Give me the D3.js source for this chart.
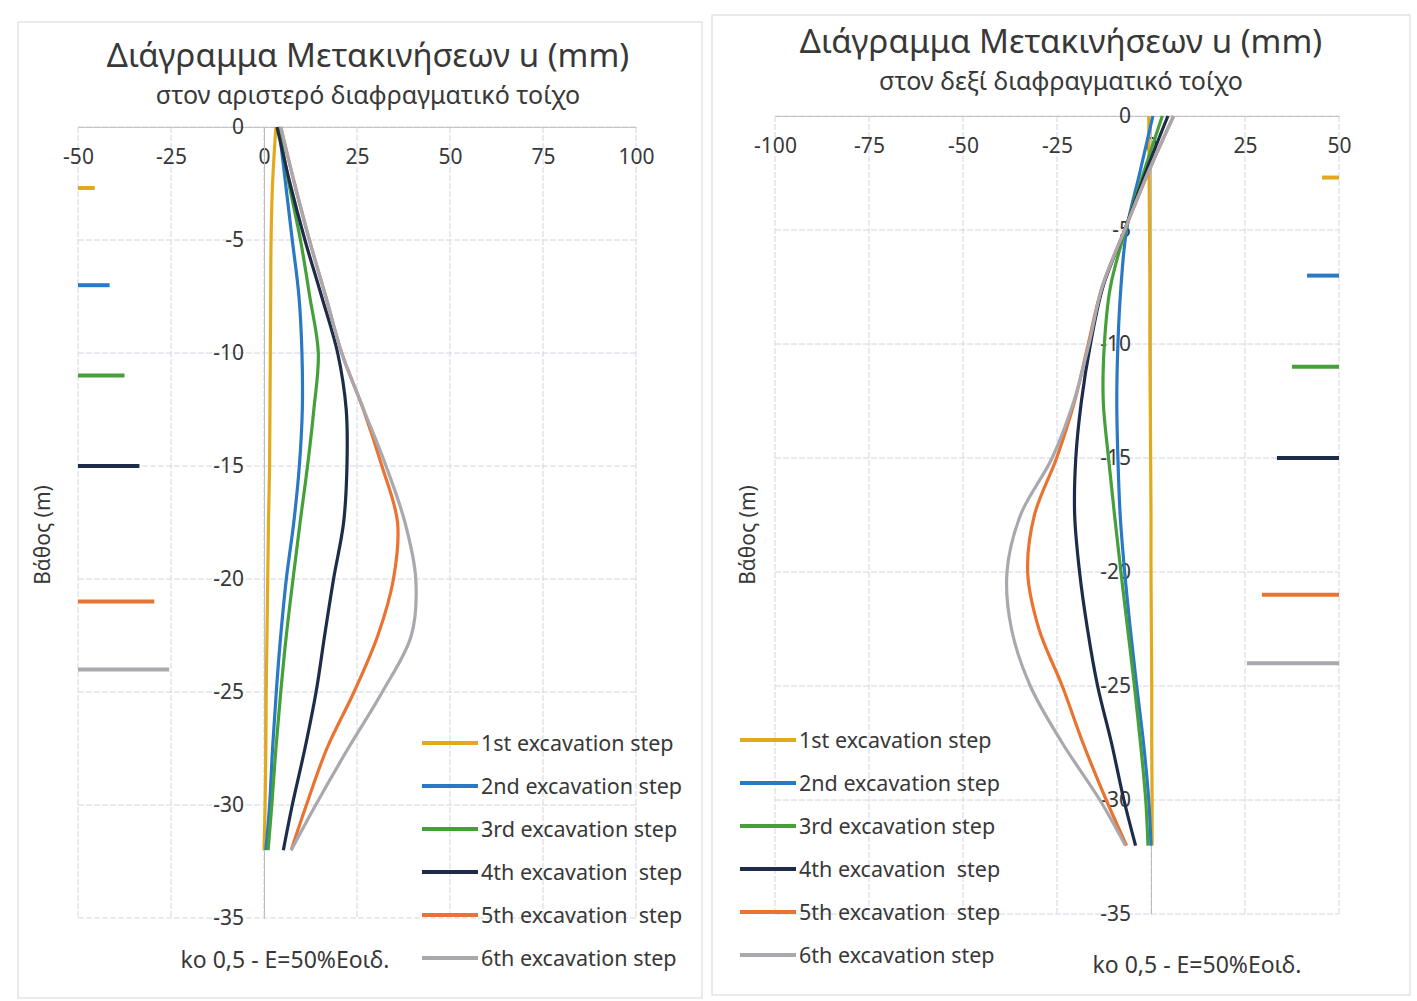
<!DOCTYPE html>
<html>
<head>
<meta charset="utf-8">
<script src="https://cdn.jsdelivr.net/npm/d3@7"></script>
<style>
    body { margin: 0; background: #ffffff; }
    text { font-family: "Noto Sans", "Open Sans", sans-serif; fill: #383838; }
    .legend text { white-space: pre; }
</style>
</head>
<body>
<div id="chart"></div>
<script>

// depth of the output points along the wall (m)
const depths = [0, -2.5, -5, -7.5, -10, -12.5, -15, -17.5, -20, -22.5, -25, -27.5, -30, -32];

// left wall - horizontal displacement u (mm) for each excavation step
const leftStep1 = [3.2, 2.3, 1.9, 1.8, 1.7, 1.6, 1.5, 1.2, 1.0, 0.8, 0.6, 0.5, 0.3, 0.0];
const leftStep2 = [4.0, 5.8, 7.6, 9.4, 10.2, 10.3, 9.5, 8.0, 6.0, 4.5, 3.3, 2.3, 1.5, 0.5];
const leftStep3 = [4.0, 6.7, 9.8, 12.3, 14.6, 13.4, 11.7, 9.7, 7.8, 6.0, 4.5, 3.2, 2.1, 1.1];
const leftStep4 = [3.5, 7.0, 11.0, 15.5, 19.8, 22.1, 22.3, 21.4, 18.7, 16.3, 14.0, 11.0, 7.6, 5.2];
const leftStep5 = [4.5, 8.2, 12.2, 16.6, 20.9, 26.7, 31.7, 35.9, 34.8, 30.6, 24.2, 16.9, 11.4, 7.3];
const leftStep6 = [4.5, 8.2, 12.2, 16.6, 20.9, 26.8, 32.8, 37.9, 40.8, 39.6, 31.8, 22.6, 13.9, 7.3];

// right wall
const rightStep1 = [-0.6, -0.5, -0.4, -0.3, -0.3, -0.2, -0.1, 0.0, 0.0, 0.1, 0.2, 0.2, 0.3, 0.3];
const rightStep2 = [0.5, -3.0, -6.5, -8.0, -8.8, -9.1, -8.8, -8.2, -7.0, -5.5, -3.8, -2.0, -0.6, 0.0];
const rightStep3 = [3.0, -2.0, -6.8, -10.8, -12.4, -12.7, -11.3, -9.7, -8.0, -6.2, -4.4, -2.8, -1.4, -0.8];
const rightStep4 = [4.5, -1.5, -7.0, -12.8, -16.1, -18.5, -20.0, -20.3, -19.0, -16.9, -14.2, -10.5, -7.2, -4.1];
const rightStep5 = [6.0, -0.8, -7.0, -13.0, -16.7, -20.3, -25.1, -31.0, -32.8, -29.8, -23.6, -18.1, -11.9, -6.5];
const rightStep6 = [6.0, -0.8, -7.0, -13.0, -16.5, -20.5, -26.3, -34.7, -38.3, -37.1, -32.1, -23.6, -13.6, -6.8];

// excavation level of each step (m) and length of its marker (mm on the x scale)
const levelDepths = [-2.7, -7, -11, -15, -21, -24];
const levelLengths = [4.5, 8.5, 12.5, 16.5, 20.5, 24.5];

const stepLabels = ["1st excavation step", "2nd excavation step", "3rd excavation step",
    "4th excavation  step", "5th excavation  step", "6th excavation step"];

const leftTicksX = [-50, -25, 0, 25, 50, 75, 100];
const rightTicksX = [-100, -75, -50, -25, 0, 25, 50];
const ticksY = [0, -5, -10, -15, -20, -25, -30, -35];

const stepColors = ["#E2A91C", "#2A79C6", "#45A03A", "#1D2C4A", "#EA7331", "#A8A8AE"];


class DisplacementVis {

    constructor(svg, config, series) {
        this.svg = svg;
        this.config = config;
        this.series = series;

        this.initVis()
    }

    initVis() {
        let vis = this;
        let c = vis.config;

        vis.g = vis.svg.append("g");

        // outer chart frame
        vis.g.append("rect")
            .attr("x", c.frame[0]).attr("y", c.frame[1])
            .attr("width", c.frame[2]).attr("height", c.frame[3])
            .attr("fill", "none")
            .attr("stroke", "#d6d6d6");

        vis.x = d3.scaleLinear().domain(c.xDomain).range(c.xRange);
        vis.y = d3.scaleLinear().domain([0, -35]).range(c.yRange);

        // gridlines
        vis.g.append("g").selectAll("line")
            .data(c.ticksX)
            .enter().append("line")
            .attr("x1", d => vis.x(d)).attr("x2", d => vis.x(d))
            .attr("y1", vis.y(0)).attr("y2", vis.y(-35))
            .attr("stroke", "#d3d6e0")
            .attr("stroke-dasharray", "6,2");

        vis.g.append("g").selectAll("line")
            .data(ticksY)
            .enter().append("line")
            .attr("x1", vis.x(c.xDomain[0])).attr("x2", vis.x(c.xDomain[1]))
            .attr("y1", d => vis.y(d)).attr("y2", d => vis.y(d))
            .attr("stroke", "#d3d6e0")
            .attr("stroke-dasharray", "6,2");

        // plain hyphen for negatives, like the original
        let fmt = d => String(d);

        // x axis sits on depth 0, labels hang below it
        let xAxis = vis.g.append("g")
            .attr("transform", "translate(0," + vis.y(0) + ")")
            .call(d3.axisBottom(vis.x).tickValues(c.ticksX).tickFormat(fmt).tickSize(0).tickPadding(22));
        xAxis.select(".domain").attr("stroke", "#c4c4c4");
        xAxis.selectAll("text")
            .style("font-size", "21px")
            .style("font-family", null)
            .attr("fill", null);

        // y axis on u = 0
        let yAxis = vis.g.append("g")
            .attr("transform", "translate(" + vis.x(0) + ",0)")
            .call(d3.axisLeft(vis.y).tickValues(ticksY).tickFormat(fmt).tickSize(0).tickPadding(20));
        yAxis.select(".domain").attr("stroke", "#bcbcbc");
        yAxis.selectAll("text")
            .style("font-size", "21px")
            .style("font-family", null)
            .attr("fill", null);

        // titles
        vis.g.append("text")
            .attr("x", c.titleX).attr("y", c.titleY)
            .attr("text-anchor", "middle")
            .style("font-size", "33px")
            .text("Διάγραμμα Μετακινήσεων u (mm)");

        vis.g.append("text")
            .attr("x", c.titleX).attr("y", c.titleY + 37)
            .attr("text-anchor", "middle")
            .style("font-size", "25px")
            .text(c.subtitle);

        vis.g.append("text")
            .attr("transform", "translate(" + c.axisTitleX + ",535) rotate(-90)")
            .attr("text-anchor", "middle")
            .style("font-size", "21px")
            .text("Βάθος (m)");

        vis.g.append("text")
            .attr("x", c.noteX).attr("y", c.noteY)
            .attr("text-anchor", "middle")
            .style("font-size", "23px")
            .text("ko 0,5 - E=50%Εοιδ.");

        vis.wrangleData()
    }

    wrangleData() {
        let vis = this;

        // one array of {u, depth} points per step
        vis.displayData = vis.series.map((values, i) => ({
            name: stepLabels[i],
            color: stepColors[i],
            points: values.map((u, j) => ({u: u, depth: depths[j]}))
        }));

        // excavation level markers start at the outer edge of the x range
        let edge = vis.config.markerSide === "left" ? vis.config.xDomain[0] : vis.config.xDomain[1];
        let sign = vis.config.markerSide === "left" ? 1 : -1;
        vis.levels = levelDepths.map((d, i) => ({
            depth: d,
            u1: edge,
            u2: edge + sign * levelLengths[i],
            color: stepColors[i]
        }));

        vis.updateVis()
    }

    updateVis() {
        let vis = this;
        let c = vis.config;

        let line = d3.line()
            .x(d => vis.x(d.u))
            .y(d => vis.y(d.depth))
            .curve(d3.curveCatmullRom.alpha(0.5));

        vis.g.append("g").selectAll("path")
            .data(vis.displayData)
            .enter().append("path")
            .attr("d", d => line(d.points))
            .attr("fill", "none")
            .attr("stroke", d => d.color)
            .attr("stroke-width", 3.2);

        vis.g.append("g").selectAll("line")
            .data(vis.levels)
            .enter().append("line")
            .attr("x1", d => vis.x(d.u1)).attr("x2", d => vis.x(d.u2))
            .attr("y1", d => vis.y(d.depth)).attr("y2", d => vis.y(d.depth))
            .attr("stroke", d => d.color)
            .attr("stroke-width", 4);

        // legend
        let legend = vis.g.selectAll(".legend")
            .data(vis.displayData)
            .enter().append("g")
            .attr("class", "legend")
            .attr("transform", (d, i) => "translate(" + c.legendX + "," + (c.legendY + i * 43) + ")");

        legend.append("line")
            .attr("x1", 0).attr("x2", 56)
            .attr("stroke", d => d.color)
            .attr("stroke-width", 4);

        legend.append("text")
            .attr("x", 59)
            .attr("dy", "0.35em")
            .style("font-size", "21.5px")
            .text(d => d.name);
    }
}


let svg = d3.select("#chart").append("svg")
    .attr("width", 1417)
    .attr("height", 1001);

new DisplacementVis(svg, {
    frame: [18, 22, 684, 976],
    xDomain: [-50, 100], xRange: [78, 636], yRange: [127, 918],
    ticksX: leftTicksX,
    titleX: 368, titleY: 67,
    subtitle: "στον αριστερό διαφραγματικό τοίχο",
    axisTitleX: 50,
    noteX: 285, noteY: 968,
    legendX: 422, legendY: 743,
    markerSide: "left"
}, [leftStep1, leftStep2, leftStep3, leftStep4, leftStep5, leftStep6]);

new DisplacementVis(svg, {
    frame: [712, 15, 698, 980],
    xDomain: [-100, 50], xRange: [775, 1339], yRange: [116, 914],
    ticksX: rightTicksX,
    titleX: 1061, titleY: 53,
    subtitle: "στον δεξί διαφραγματικό τοίχο",
    axisTitleX: 755,
    noteX: 1197, noteY: 973,
    legendX: 740, legendY: 740,
    markerSide: "right"
}, [rightStep1, rightStep2, rightStep3, rightStep4, rightStep5, rightStep6]);

</script>
</body>
</html>
